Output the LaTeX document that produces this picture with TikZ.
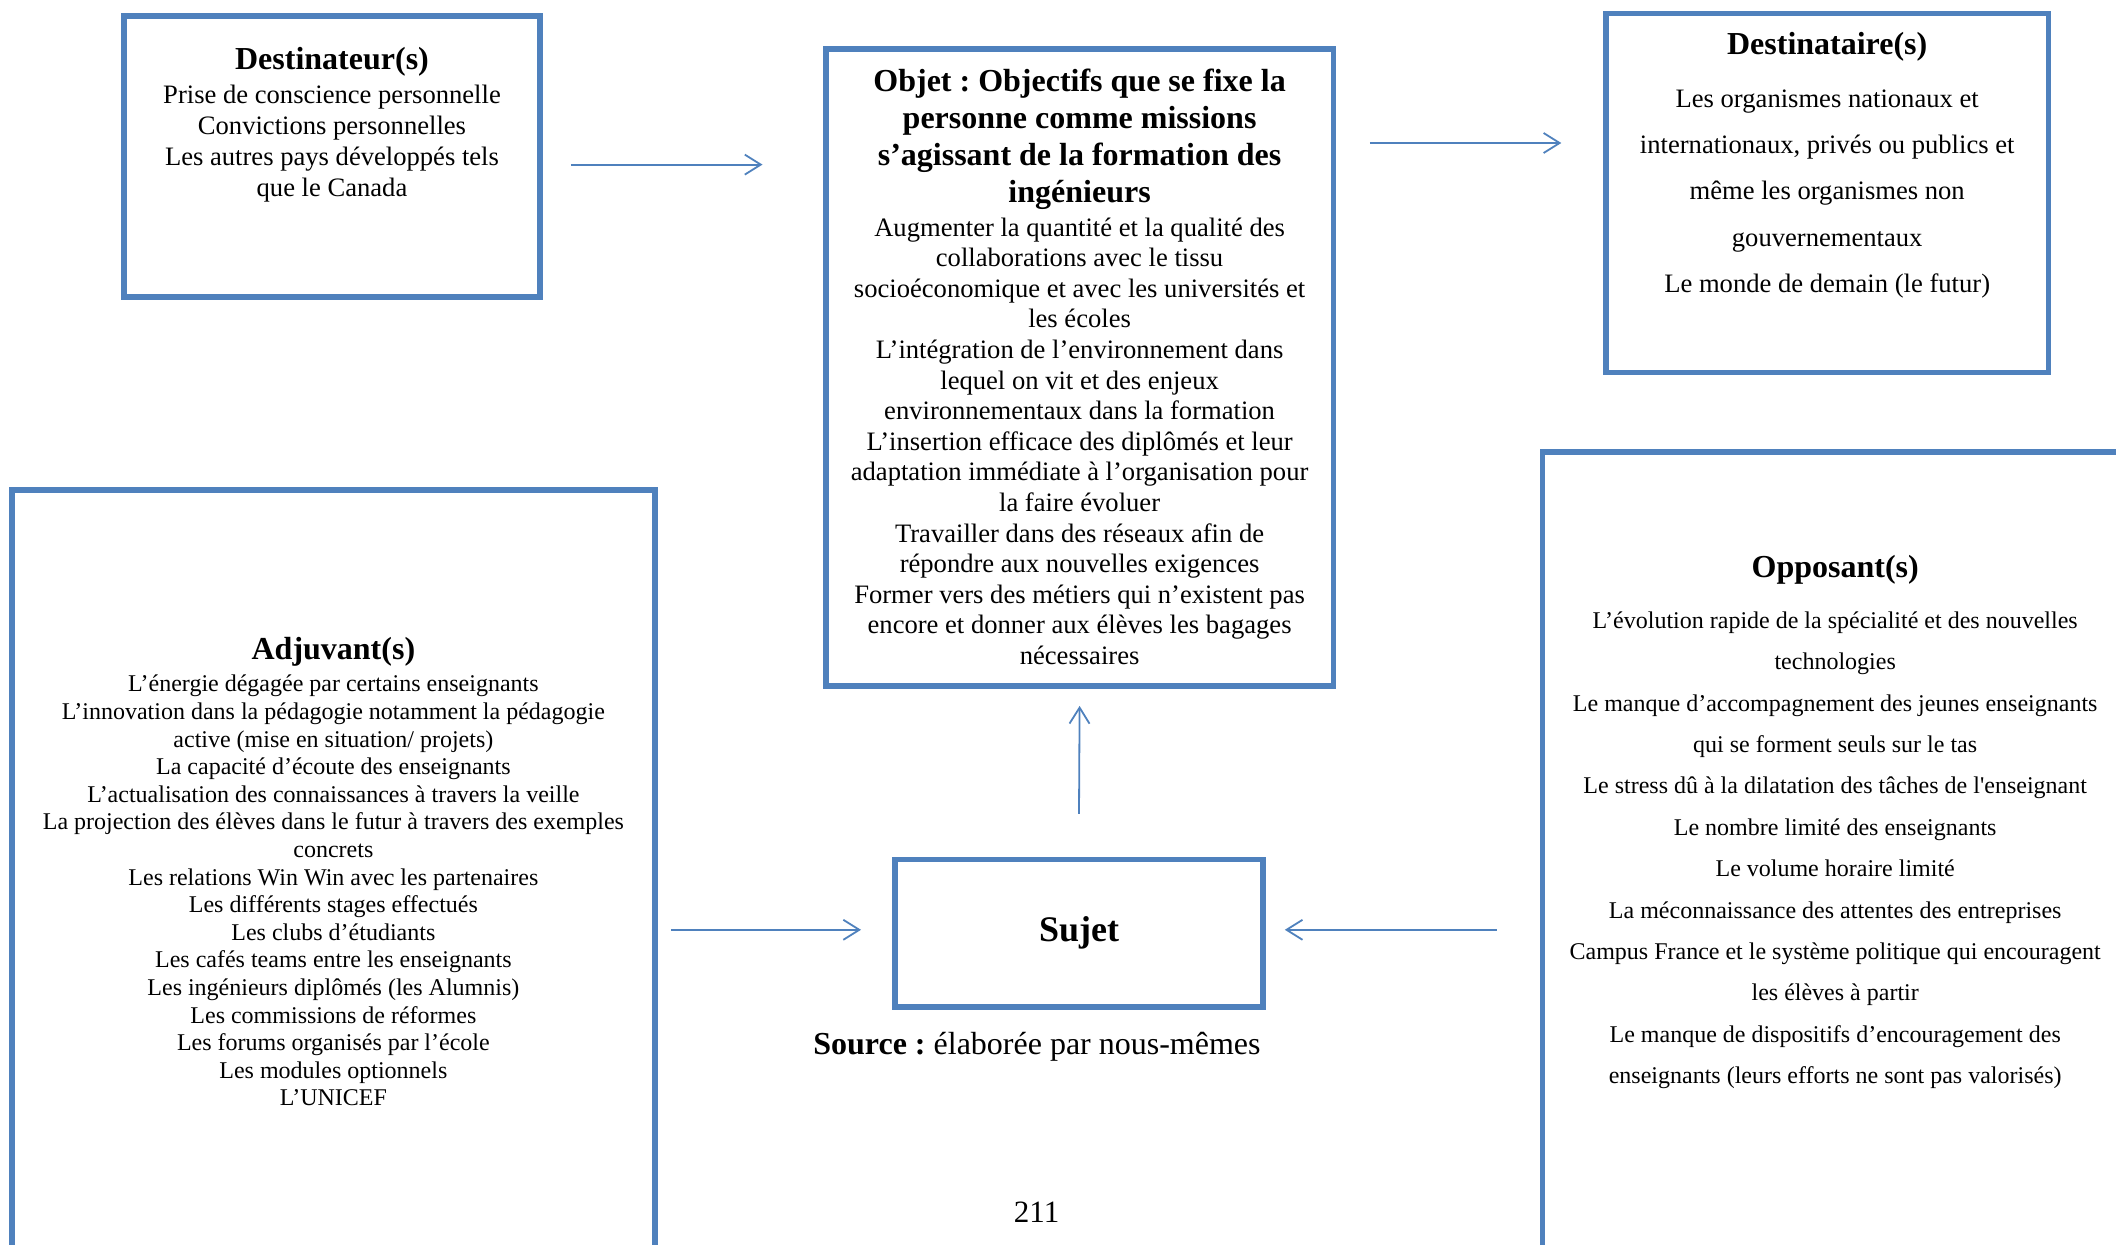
\documentclass[tikz,border=0pt]{standalone}
\usepackage{fontspec}
\setmainfont{Liberation Serif}
\newfontfamily\rawserif{Liberation Serif}
\usepackage{tikz}
\usetikzlibrary{positioning,calc,arrows.meta}
\frenchspacing

\definecolor{boxblue}{HTML}{4F81BD}
\newcommand{\titlefont}{\bfseries\fontsize{16}{18}\selectfont}

\tikzset{
  actant/.style={draw=boxblue, line width=2.8pt, outer sep=0pt, inner sep=0pt},
  actext/.style={align=center, inner sep=0pt},
  arr/.style={draw=boxblue, line width=0.9pt, -{Straight Barb[length=8pt,width=10pt]}}
}

\begin{document}
\begin{tikzpicture}
 \useasboundingbox (0,0) rectangle (1058pt,-622pt);
 \clip (0,0) rectangle (1058pt,-622pt);
 % boxes
 \node[actant, minimum width=208pt, minimum height=140.5pt] (dest) at (166pt,-78.3pt) {};
 \node[actant, minimum width=253.7pt, minimum height=318.5pt] (obj) at (539.8pt,-183.6pt) {};
 \node[actant, minimum width=221.3pt, minimum height=179.5pt] (dtaire) at (913.6pt,-96.5pt) {};
 \node[actant, minimum width=321.3pt, minimum height=415pt] (adj) at (166.7pt,-452.5pt) {};
 \node[actant, minimum width=292.8pt, minimum height=434pt] (opp) at (917.6pt,-443pt) {};
 \node[actant, minimum width=184.2pt, minimum height=73.6pt, font=\bfseries\fontsize{18}{20}\selectfont] (sujet) at (539.5pt,-466.6pt) {Sujet};

 % texts
 \node[actext, font=\fontsize{13.3}{15.5}\selectfont, below=15.4pt of dest.north] (desttext) {%
  {\titlefont Destinateur(s)}\\[1.4pt]
  Prise de conscience personnelle\\
  Convictions personnelles\\
  Les autres pays développés tels\\
  que le Canada};
 \node[actext, font=\fontsize{13.3}{15.3}\selectfont, below=10.1pt of obj.north] (objtext) {%
  {\titlefont Objet : Objectifs que se fixe la}\\[3.1pt]
  {\titlefont personne comme missions}\\[3.1pt]
  {\titlefont s’agissant de la formation des}\\[3.1pt]
  {\titlefont ingénieurs}\\[1.6pt]
  Augmenter la quantité et la qualité des\\
  collaborations avec le tissu\\
  socioéconomique et avec les universités et\\
  les écoles\\
  L’intégration de l’environnement dans\\
  lequel on vit et des enjeux\\
  environnementaux dans la formation\\
  L’insertion efficace des diplômés et leur\\
  adaptation immédiate à l’organisation pour\\
  la faire évoluer\\
  Travailler dans des réseaux afin de\\
  répondre aux nouvelles exigences\\
  Former vers des métiers qui n’existent pas\\
  encore et donner aux élèves les bagages\\
  nécessaires};
 \node[actext, font=\fontsize{13.3}{23.1}\selectfont, below=9.4pt of dtaire.north] (dtairetext) {%
  {\titlefont Destinataire(s)}\\[3.2pt]
  Les organismes nationaux et\\
  internationaux, privés ou publics et\\
  même les organismes non\\
  gouvernementaux\\
  Le monde de demain (le futur)};
 \node[actext, font=\fontsize{12}{13.8}\selectfont, below=73.4pt of adj.north] (adjtext) {%
  {\titlefont Adjuvant(s)}\\[2.4pt]
  L’énergie dégagée par certains enseignants\\
  L’innovation dans la pédagogie notamment la pédagogie\\
  active (mise en situation/ projets)\\
  La capacité d’écoute des enseignants\\
  L’actualisation des connaissances à travers la veille\\
  La projection des élèves dans le futur à travers des exemples\\
  concrets\\
  Les relations Win Win avec les partenaires\\
  Les différents stages effectués\\
  Les clubs d’étudiants\\
  Les cafés teams entre les enseignants\\
  Les ingénieurs diplômés (les Alumnis)\\
  Les commissions de réformes\\
  Les forums organisés par l’école\\
  Les modules optionnels\\
  L’UNICEF};
 \node[actext, font=\fontsize{12}{20.7}\selectfont, below=51.2pt of opp.north] (opptext) {%
  {\titlefont Opposant(s)}\\[4.9pt]
  L’évolution rapide de la spécialité et des nouvelles\\
  technologies\\
  Le manque d’accompagnement des jeunes enseignants\\
  qui se forment seuls sur le tas\\
  Le stress dû à la dilatation des tâches de l{\rawserif '}enseignant\\
  Le nombre limité des enseignants\\
  Le volume horaire limité\\
  La méconnaissance des attentes des entreprises\\
  Campus France et le système politique qui encouragent\\
  les élèves à partir\\
  Le manque de dispositifs d’encouragement des\\
  enseignants (leurs efforts ne sont pas valorisés)};
 \node[actext, font=\fontsize{16}{18}\selectfont, below=12.5pt of sujet, xshift=-21pt] (source) {\textbf{Source :} élaborée par nous-mêmes};
 \node[actext, font=\fontsize{15.5}{18}\selectfont] (page) at (518.3pt,-606.3pt) {211};

 % arrows
 \draw[arr] ($(dest.east)+(15.4pt,-4pt)$) -- ($(obj.west)+(-31.7pt,101.3pt)$);
 \draw[arr] ($(obj.east)+(18.3pt,112.1pt)$) -- ($(dtaire.west)+(-22.3pt,25pt)$);
 \draw[arr] ([yshift=22.9pt]sujet.north) -- ([yshift=-10.1pt]obj.south);
 \draw[arr] ($(adj.east |- sujet.west)+(8.1pt,1.7pt)$) -- ($(sujet.west)+(-16.9pt,1.7pt)$);
 \draw[arr] ($(opp.west |- sujet.east)+(-22.8pt,1.7pt)$) -- ($(sujet.east)+(10.8pt,1.7pt)$);
\end{tikzpicture}
\end{document}
